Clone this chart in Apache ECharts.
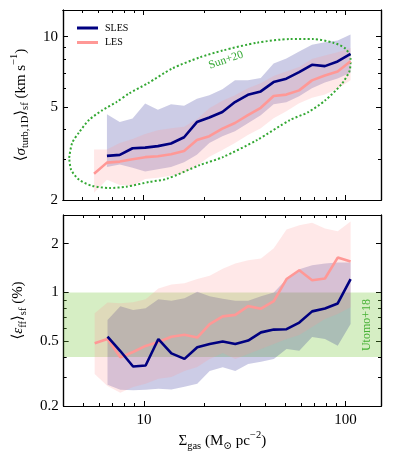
<!DOCTYPE html>
<html>
<head>
<meta charset="utf-8">
<script src="https://cdn.jsdelivr.net/npm/echarts@6/dist/echarts.min.js"></script>
<style>
html, body { margin: 0; padding: 0; background: #fff; }
#chart { width: 397px; height: 454px; }
</style>
</head>
<body>
<div id="chart"></div>
<script>
// gas surface density bins (Msun pc^-2), shared by both panels
var sigmaGas = [5.70, 6.60, 7.64, 8.84, 10.2, 11.8, 13.7, 15.9, 18.4, 21.2, 24.6, 28.4, 32.9, 38.1, 44.1, 51.0, 59.0, 68.3, 79.1, 91.5, 106]

// top panel: turbulent velocity dispersion (km/s)
var lesSigma = [2.59, 2.89, 2.92, 2.99, 3.05, 3.08, 3.14, 3.24, 3.61, 3.75, 4.04, 4.27, 4.61, 4.96, 5.57, 5.65, 5.89, 6.50, 6.82, 7.10, 7.85]
var lesSigmaLo = [2.15, 2.44, 2.32, 2.30, 2.46, 2.49, 2.54, 2.61, 2.80, 3.06, 3.27, 3.51, 3.79, 4.06, 4.48, 4.80, 5.19, 5.47, 5.66, 5.98, 6.50]
var lesSigmaHi = [3.29, 3.29, 3.51, 3.65, 3.83, 3.98, 4.06, 4.12, 4.43, 4.94, 5.32, 5.61, 6.01, 6.31, 6.79, 7.10, 7.42, 8.02, 8.30, 8.57, 8.93]
var slesSigma = [null, 3.09, 3.12, 3.33, 3.35, 3.40, 3.49, 3.71, 4.31, 4.51, 4.76, 5.25, 5.64, 5.83, 6.39, 6.61, 7.05, 7.58, 7.48, 7.83, 8.44]
var slesSigmaLo = [null, 2.77, 2.84, 2.75, 2.65, 2.71, 2.77, 2.90, 3.12, 3.51, 3.75, 3.94, 4.26, 4.61, 5.14, 5.24, 5.56, 6.01, 6.37, 6.62, 7.0]
var slesSigmaHi = [null, 4.66, 4.31, 4.46, 5.17, 4.87, 5.14, 5.06, 5.42, 5.61, 5.95, 6.50, 6.50, 6.65, 7.68, 8.06, 8.63, 9.24, 9.46, 9.62, 10.2]

// Sun+20 ellipse
var sunX = [4.29, 4.44, 4.81, 5.38, 6.25, 7.34, 8.51, 10.5, 13.9, 19.0, 24.7, 36.5, 53.2, 69.3, 87.1, 100, 106, 105, 95.5, 79.5, 65.4, 53.2, 36.5, 24.7, 19.0, 13.0, 10.7, 8.23, 6.78, 5.57, 4.81, 4.39, 4.29]
var sunY = [3.03, 3.51, 3.90, 4.40, 4.84, 5.24, 5.72, 6.31, 7.31, 8.15, 8.72, 9.42, 9.76, 9.76, 9.42, 8.89, 8.06, 7.16, 6.25, 5.34, 4.75, 4.40, 3.61, 3.05, 2.82, 2.46, 2.39, 2.28, 2.25, 2.30, 2.44, 2.69, 3.03]

// bottom panel: efficiency per free-fall time (%)
var lesEff = [0.487, 0.517, 0.399, 0.430, 0.469, 0.496, 0.534, 0.549, 0.528, 0.639, 0.713, 0.728, 0.824, 0.795, 0.885, 1.21, 1.37, 1.19, 1.22, 1.64, 1.55]
var lesEffLo = [0.315, 0.266, 0.241, 0.262, 0.274, 0.294, 0.302, 0.329, 0.348, 0.390, 0.424, 0.390, 0.418, 0.449, 0.482, 0.517, 0.547, 0.612, 0.686, 0.736, 0.812]
var lesEffHi = [0.746, 0.869, 0.859, 0.872, 0.910, 1.06, 1.12, 1.14, 1.21, 1.27, 1.40, 1.51, 1.58, 1.62, 1.87, 2.44, 2.59, 2.69, 2.48, 2.38, 2.74]
var slesEff = [null, 0.534, 0.436, 0.350, 0.355, 0.517, 0.422, 0.390, 0.460, 0.482, 0.499, 0.482, 0.506, 0.568, 0.591, 0.594, 0.653, 0.765, 0.796, 0.856, 1.21]
var slesEffLo = [null, 0.270, 0.252, 0.250, 0.252, 0.255, 0.253, 0.263, 0.274, 0.329, 0.346, 0.329, 0.363, 0.375, 0.390, 0.449, 0.437, 0.532, 0.517, 0.470, 0.639]
var slesEffHi = [null, 0.676, 0.824, 0.779, 0.801, 0.910, 0.888, 0.923, 1.01, 0.949, 0.916, 0.888, 0.891, 0.949, 1.0, 1.21, 1.39, 1.47, 1.51, 1.53, 1.53]
var utomoRange = [0.4, 1.0]

// axis ranges and ticks
var xRange = [4, 150]
var xMajor = [10, 100]
var xMinor = [5, 6, 7, 8, 9, 20, 30, 40, 50, 60, 70, 80, 90]
var sigmaRange = [2, 13]
var sigmaMajor = [2, 5, 10]
var sigmaMinor = [3, 4, 6, 7, 8, 9]
var effRange = [0.2, 3]
var effMajor = [0.2, 0.5, 1, 2]
var effMinor = [0.3, 0.4, 0.6, 0.7, 0.8, 0.9]

var NAVY = '#000080'
var PINK = '#ff9896'
var GREEN = '#33a833'
var SERIF = "'Liberation Serif', 'DejaVu Serif', serif"

var lg = function (v) { return v == null ? null : Math.log10(v) }

function pairs(xs, ys) {
    var out = []
    for (var i = 0; i < xs.length; i++) {
        if (ys[i] != null) out.push([lg(xs[i]), lg(ys[i])])
    }
    return out
}
function bandRows(xs, lo, hi) {
    var out = []
    for (var i = 0; i < xs.length; i++) {
        if (lo[i] != null) out.push([lg(xs[i]), lg(lo[i]), lg(hi[i])])
    }
    return out
}
function tickLabel(v) {
    return String(+Math.pow(10, v).toPrecision(3))
}

// one axis = one side of a panel, major or minor ticks
function axis(grid, pos, range, ticks, len, labels) {
    var a = {
        type: 'value',
        gridIndex: grid,
        position: pos,
        min: lg(range[0]),
        max: lg(range[1]),
        axisLine: { show: true, onZero: false, lineStyle: { color: '#000', width: 1.2 } },
        axisTick: { show: true, inside: true, length: len, customValues: ticks.map(lg), lineStyle: { color: '#000', width: 1 } },
        axisLabel: { show: false },
        splitLine: { show: false }
    }
    if (labels) {
        a.axisLabel = {
            show: true,
            customValues: labels.map(lg),
            formatter: tickLabel,
            showMinLabel: true,
            showMaxLabel: true,
            fontFamily: SERIF,
            fontSize: 15,
            color: '#000',
            margin: pos === 'left' ? 5 : 7
        }
    }
    return a
}

var richText = {
    n: { fontFamily: SERIF, fontSize: 15, lineHeight: 16, color: '#000' },
    i: { fontFamily: SERIF, fontSize: 15, lineHeight: 16, fontStyle: 'italic', color: '#000' },
    s: { fontFamily: SERIF, fontSize: 10.5, lineHeight: 10, padding: [10, 0, 0, 0], color: '#000' },
    p: { fontFamily: SERIF, fontSize: 10.5, lineHeight: 10, padding: [0, 0, 12, 0], color: '#000' }
}

var xAxes = [
    axis(0, 'bottom', xRange, xMajor, 5),
    axis(0, 'bottom', xRange, xMinor, 3),
    axis(0, 'top', xRange, xMajor, 5),
    axis(0, 'top', xRange, xMinor, 3),
    axis(1, 'bottom', xRange, xMajor, 5, xMajor),
    axis(1, 'bottom', xRange, xMinor, 3),
    axis(1, 'top', xRange, xMajor, 5),
    axis(1, 'top', xRange, xMinor, 3)
]
var yAxes = [
    axis(0, 'left', sigmaRange, sigmaMajor, 5, sigmaMajor),
    axis(0, 'left', sigmaRange, sigmaMinor, 3),
    axis(0, 'right', sigmaRange, sigmaMajor, 5),
    axis(0, 'right', sigmaRange, sigmaMinor, 3),
    axis(1, 'left', effRange, effMajor, 5, effMajor),
    axis(1, 'left', effRange, effMinor, 3),
    axis(1, 'right', effRange, effMajor, 5),
    axis(1, 'right', effRange, effMinor, 3)
]

// axis titles
function title(a, text, gap, rotate) {
    a.name = text
    a.nameLocation = 'middle'
    a.nameGap = gap
    if (rotate) a.nameRotate = 90
    a.nameTextStyle = { rich: richText }
}
title(yAxes[0], '{n|⟨}{i|σ}{s|turb,1D}{n|⟩}{s|sf}{n| (km s}{p|−1}{n|)}', 24, true)
title(yAxes[4], '{n|⟨}{i|ε}{s|ff}{n|⟩}{s|sf}{n| (%)}', 30, true)
title(xAxes[4], '{n|Σ}{s|gas}{n| (M}{s|⊙}{n| pc}{p|−2}{n|)}', 27, false)

function band(rows, color, xi, yi) {
    return {
        type: 'custom',
        xAxisIndex: xi,
        yAxisIndex: yi,
        data: rows,
        silent: true,
        z: 2,
        renderItem: function (params, api) {
            if (params.dataIndexInside !== 0) return null
            var n = params.dataInsideLength
            var top = [], bot = []
            for (var k = 0; k < n; k++) {
                top.push(api.coord([api.value(0, k), api.value(2, k)]))
                bot.unshift(api.coord([api.value(0, k), api.value(1, k)]))
            }
            return { type: 'polygon', shape: { points: top.concat(bot) }, style: { fill: color } }
        }
    }
}
function line(name, data, color, xi, yi) {
    return {
        type: 'line',
        name: name,
        xAxisIndex: xi,
        yAxisIndex: yi,
        data: data,
        symbol: 'none',
        silent: true,
        z: 4,
        lineStyle: { color: color, width: 2.6 },
        itemStyle: { color: color }
    }
}

var option = {
    animation: false,
    backgroundColor: '#fff',
    grid: [
        { left: 63, right: 16, top: 10, height: 190 },
        { left: 63, right: 16, top: 215, height: 191 }
    ],
    xAxis: xAxes,
    yAxis: yAxes,
    legend: {
        data: ['SLES', 'LES'],
        orient: 'vertical',
        left: 72,
        top: 17,
        icon: 'rect',
        itemWidth: 21,
        itemHeight: 3,
        itemGap: 2.5,
        selectedMode: false,
        textStyle: { fontFamily: SERIF, fontSize: 10, lineHeight: 12, color: '#000', padding: [0, 0, 0, 2] }
    },
    series: [
        // Utomo+18 range
        {
            type: 'custom',
            xAxisIndex: 4,
            yAxisIndex: 4,
            data: [[lg(utomoRange[0]), lg(utomoRange[1])]],
            silent: true,
            z: 1,
            renderItem: function (params, api) {
                var cs = params.coordSys
                var y0 = api.coord([lg(xRange[0]), api.value(0)])[1]
                var y1 = api.coord([lg(xRange[0]), api.value(1)])[1]
                return { type: 'rect', shape: { x: cs.x, y: y1, width: cs.width, height: y0 - y1 }, style: { fill: 'rgba(120,200,60,0.3)' } }
            }
        },
        band(bandRows(sigmaGas, slesSigmaLo, slesSigmaHi), 'rgba(0,0,128,0.2)', 0, 0),
        band(bandRows(sigmaGas, lesSigmaLo, lesSigmaHi), 'rgba(255,152,150,0.22)', 0, 0),
        band(bandRows(sigmaGas, slesEffLo, slesEffHi), 'rgba(0,0,128,0.2)', 4, 4),
        band(bandRows(sigmaGas, lesEffLo, lesEffHi), 'rgba(255,152,150,0.22)', 4, 4),
        {
            type: 'line',
            xAxisIndex: 0,
            yAxisIndex: 0,
            data: pairs(sunX, sunY),
            symbol: 'none',
            smooth: 0.25,
            silent: true,
            z: 3,
            lineStyle: { color: GREEN, width: 2, type: [2, 2.2] }
        },
        line('SLES', pairs(sigmaGas, slesSigma), NAVY, 0, 0),
        line('LES', pairs(sigmaGas, lesSigma), PINK, 0, 0),
        line('LES', pairs(sigmaGas, lesEff), PINK, 4, 4),
        line('SLES', pairs(sigmaGas, slesEff), NAVY, 4, 4)
    ],
    graphic: [
        {
            type: 'text',
            x: 226,
            y: 60,
            rotation: 0.33,
            style: { text: 'Sun+20', fill: GREEN, font: '11.5px ' + SERIF, align: 'center', verticalAlign: 'middle' }
        },
        {
            type: 'text',
            x: 367,
            y: 325,
            rotation: Math.PI / 2,
            style: { text: 'Utomo+18', fill: GREEN, font: '12px ' + SERIF, align: 'center', verticalAlign: 'middle' }
        }
    ]
}

var myChart = echarts.init(document.getElementById('chart'))
myChart.setOption(option)
</script>
</body>
</html>
